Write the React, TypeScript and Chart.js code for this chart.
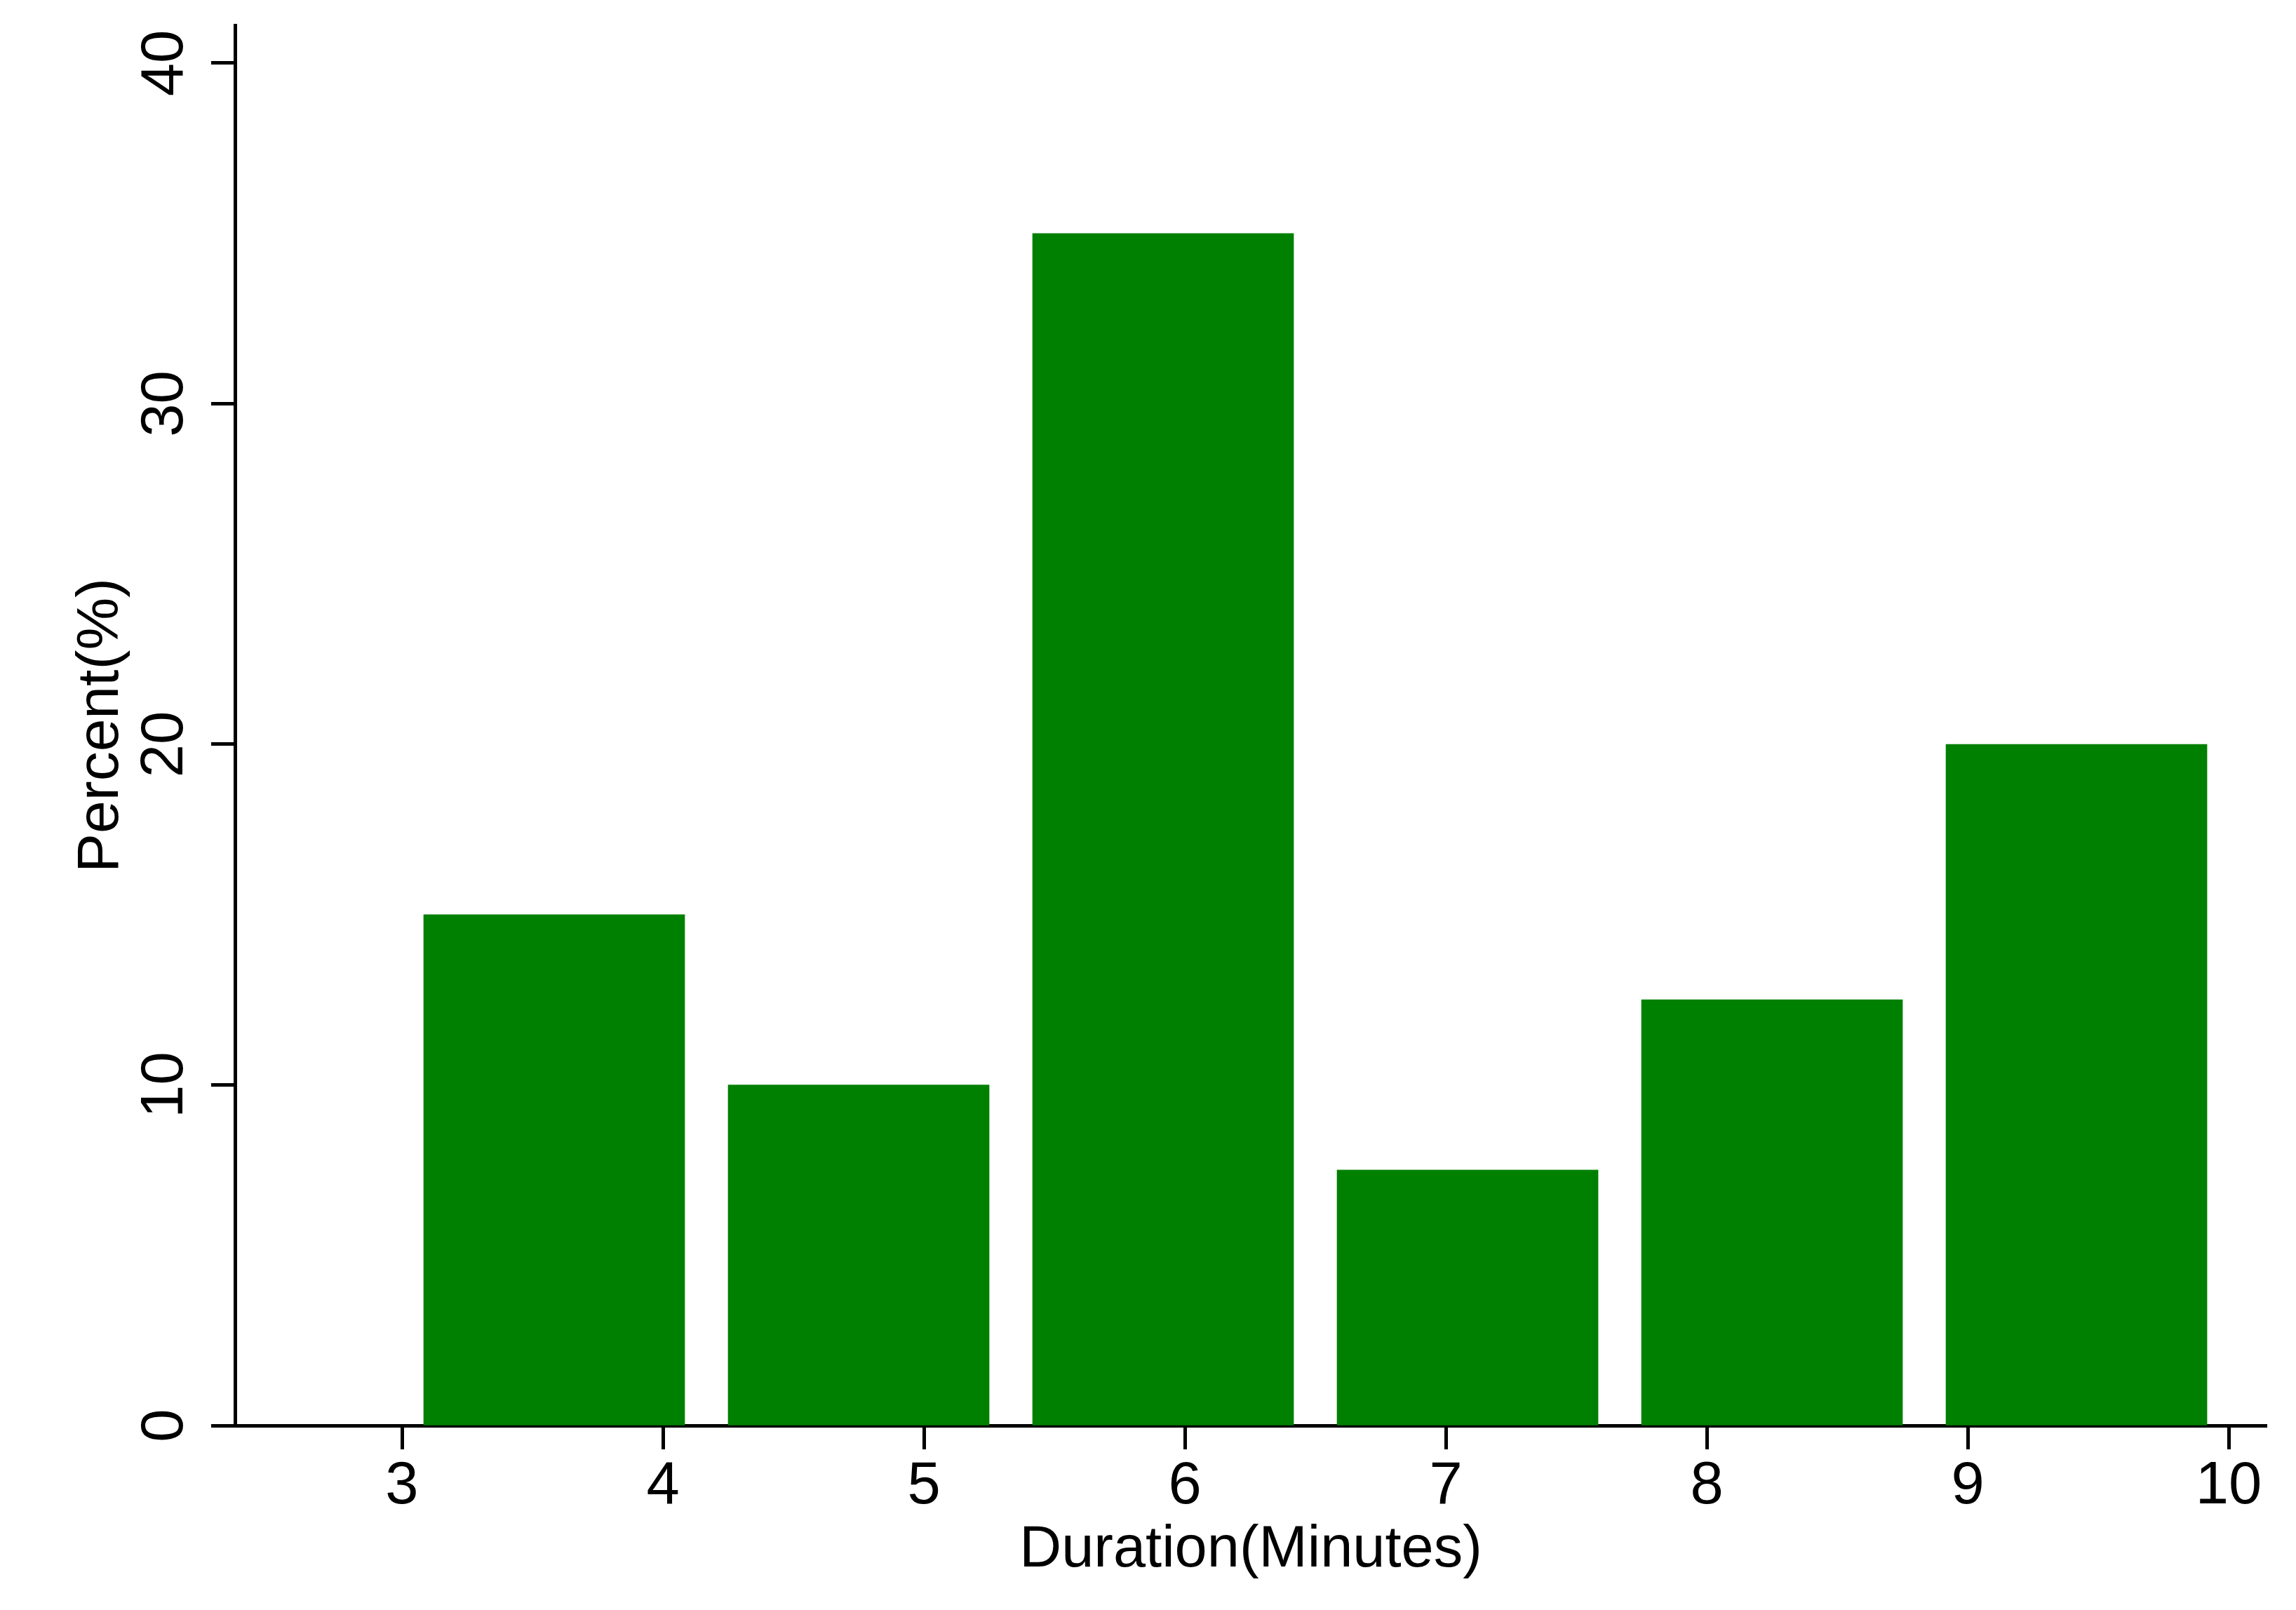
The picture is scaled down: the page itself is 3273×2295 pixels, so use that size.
import React, { useEffect, useRef } from 'react';
import { Chart, registerables } from 'chart.js';

Chart.register(...registerables);

// ---- data ----
const binEdges = [3, 25 / 6, 16 / 3, 6.5, 23 / 3, 53 / 6, 10];
const percentValues = [15, 10, 35, 7.5, 12.5, 20];
const xTickValues = [3, 4, 5, 6, 7, 8, 9, 10];
const yTickValues = [0, 10, 20, 30, 40];
const xTitle = 'Duration(Minutes)';
const yTitle = 'Percent(%)';

const W = 3273;
const H = 2295;
const FONT = 'Liberation Sans';
const GREEN = '#008000';

export default function App() {
  const ref = useRef<HTMLCanvasElement | null>(null);

  useEffect(() => {
    if (!ref.current) return;
    const points = percentValues.map((v, i) => ({
      x: (binEdges[i] + binEdges[i + 1]) / 2,
      y: v,
    }));
    const axisCommon = {
      grid: {
        display: true,
        drawOnChartArea: false,
        drawTicks: true,
        tickLength: 34,
        tickWidth: 5,
        tickColor: '#000',
        color: '#000',
        offset: false,
      },
      border: { display: true, color: '#000', width: 5 },
    };
    const chart = new Chart(ref.current, {
      type: 'bar',
      data: {
        datasets: [
          {
            data: points,
            backgroundColor: GREEN,
            borderWidth: 0,
            barPercentage: 1,
            categoryPercentage: 1,
          },
        ],
      },
      options: {
        animation: false,
        responsive: false,
        maintainAspectRatio: false,
        devicePixelRatio: 1,
        layout: { padding: { left: 0, top: 36, right: 42, bottom: 0 } },
        plugins: {
          legend: { display: false },
          tooltip: { enabled: false },
          title: { display: false },
        },
        scales: {
          x: {
            type: 'linear',
            position: 'bottom',
            min: 2.3602,
            max: 10.145,
            offset: false,
            z: 1,
            ...axisCommon,
            afterBuildTicks: (s: any) => {
              s.ticks = xTickValues.map((v) => ({ value: v }));
            },
            afterFit: (s: any) => {
              s.height = 263;
              s.paddingLeft = 0;
              s.paddingRight = 0;
            },
            ticks: {
              autoSkip: false,
              maxRotation: 0,
              minRotation: 0,
              padding: 3,
              color: '#000',
              font: { family: FONT, size: 85 },
              callback: (v: any) => String(v),
            },
            title: {
              display: true,
              text: xTitle,
              color: '#000',
              font: { family: FONT, size: 83 },
              padding: { top: 0, bottom: 35 },
            },
          },
          y: {
            type: 'linear',
            position: 'left',
            min: 0,
            max: 41.112,
            z: 1,
            ...axisCommon,
            afterBuildTicks: (s: any) => {
              s.ticks = yTickValues.map((v) => ({ value: v }));
            },
            afterFit: (s: any) => {
              s.width = 335;
              s.paddingTop = 0;
              s.paddingBottom = 0;
            },
            ticks: {
              minRotation: 90,
              maxRotation: 90,
              crossAlign: 'center',
              padding: 17,
              color: '#000',
              font: { family: FONT, size: 85 },
              callback: (v: any) => String(v),
            },
            title: {
              display: true,
              text: yTitle,
              color: '#000',
              font: { family: FONT, size: 84 },
              padding: { top: 94, bottom: 0 },
            },
          },
        },
      } as any,
    });
    return () => chart.destroy();
  }, []);

  return (
    <div style={{ position: 'fixed', left: 0, top: 0, width: W, height: H, background: '#fff' }}>
      <canvas ref={ref} width={W} height={H} style={{ display: 'block', width: W, height: H }} />
    </div>
  );
}
